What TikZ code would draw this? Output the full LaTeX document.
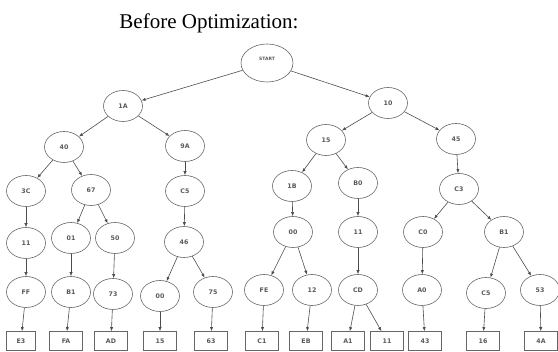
\documentclass[tikz,border=0pt]{standalone}
\usepackage{fontspec}
\setmainfont{Liberation Serif}
\newfontfamily\nodefont{DejaVu Sans}
\usetikzlibrary{shapes.geometric,arrows.meta}

\begin{document}
\begin{tikzpicture}[x=1pt, y=-1pt,
    state/.style={ellipse, draw=black!60, line width=0.6pt, minimum width=39pt, minimum height=31pt, inner sep=0pt, font=\nodefont\bfseries\fontsize{6.3}{7}\selectfont, text=black!65},
    leaf/.style={rectangle, draw=black!60, line width=0.6pt, minimum width=33pt, minimum height=19pt, inner sep=0pt, font=\nodefont\bfseries\fontsize{6.3}{7}\selectfont, text=black!65},
    edge/.style={draw=black!70, line width=0.6pt, -{Latex[length=4pt,width=3.2pt]}}]
            \useasboundingbox (0, 0) rectangle (558, 352);
            \node[anchor=base, font=\fontsize{21}{24}\selectfont] (title) at (209, 29) {Before Optimization:};

            % Root and first levels
            \node[state, minimum width=52pt, minimum height=38pt, font=\nodefont\bfseries\fontsize{4.5}{5}\selectfont] (start) at (267, 63) {\raisebox{9pt}{START}};
            \node[state] (n1A) at (123, 106) {1A};
            \node[state] (n10) at (388, 103) {10};
            \node[state] (n40) at (64, 147) {40};
            \node[state] (n9A) at (185, 146) {9A};
            \node[state] (n15) at (326, 140) {15};
            \node[state] (n45) at (456, 139) {45};

            % Third level
            \node[state] (n3C) at (26, 191) {3C};
            \node[state] (n67) at (91, 190) {67};
            \node[state] (nC5a) at (185, 191) {C5};
            \node[state] (n1B) at (292, 186) {1B};
            \node[state] (nB0) at (358, 183) {B0};
            \node[state] (nC3) at (459, 189) {C3};

            % Fourth level
            \node[state] (n11a) at (26, 243) {11};
            \node[state] (n01) at (71, 238) {01};
            \node[state] (n50) at (115, 238) {50};
            \node[state] (n46) at (184, 242) {46};
            \node[state] (n00a) at (293, 232) {00};
            \node[state] (n11b) at (358, 232) {11};
            \node[state] (nC0) at (423, 232) {C0};
            \node[state] (nB1a) at (504, 232) {B1};

            % Fifth level
            \node[state] (nFF) at (26, 292) {FF};
            \node[state] (nB1b) at (71, 292) {B1};
            \node[state] (n73) at (113, 294) {73};
            \node[state] (n00b) at (160, 296) {00};
            \node[state] (n75) at (213, 292) {75};
            \node[state] (nFE) at (264, 290) {FE};
            \node[state] (n12) at (312, 290) {12};
            \node[state] (nCD) at (358, 290) {CD};
            \node[state] (nA0) at (422, 290) {A0};
            \node[state] (nC5b) at (486, 293) {C5};
            \node[state] (n53) at (540, 290) {53};

            % Leaves
            \node[leaf, minimum width=29pt] (bE3) at (21, 341) {E3};
            \node[leaf] (bFA) at (66, 341) {FA};
            \node[leaf] (bAD) at (111, 341) {AD};
            \node[leaf] (b15) at (160, 341) {15};
            \node[leaf] (b63) at (211, 341) {63};
            \node[leaf] (bC1) at (262, 341) {C1};
            \node[leaf] (bEB) at (306, 341) {EB};
            \node[leaf] (bA1) at (348, 341) {A1};
            \node[leaf] (b11) at (387, 341) {11};
            \node[leaf] (b43) at (425, 341) {43};
            \node[leaf] (b16) at (483, 341) {16};
            \node[leaf] (b4A) at (541, 341) {4A};

            % Edges
            \draw[edge] (start) -- (n1A);
            \draw[edge] (start) -- (n10);
            \draw[edge] (n1A) -- (n40);
            \draw[edge] (n1A) -- (n9A);
            \draw[edge] (n10) -- (n15);
            \draw[edge] (n10) -- (n45);
            \draw[edge] (n40) -- (n3C);
            \draw[edge] (n40) -- (n67);
            \draw[edge] (n9A) -- (nC5a);
            \draw[edge] (n15) -- (n1B);
            \draw[edge] (n15) -- (nB0);
            \draw[edge] (n45) -- (nC3);
            \draw[edge] (n3C) -- (n11a);
            \draw[edge] (n67) -- (n01);
            \draw[edge] (n67) -- (n50);
            \draw[edge] (nC5a) -- (n46);
            \draw[edge] (n1B) -- (n00a);
            \draw[edge] (nB0) -- (n11b);
            \draw[edge] (nC3) -- (nC0);
            \draw[edge] (nC3) -- (nB1a);
            \draw[edge] (n11a) -- (nFF);
            \draw[edge] (n01) -- (nB1b);
            \draw[edge] (n50) -- (n73);
            \draw[edge] (n46) -- (n00b);
            \draw[edge] (n46) -- (n75);
            \draw[edge] (n00a) -- (nFE);
            \draw[edge] (n00a) -- (n12);
            \draw[edge] (n11b) -- (nCD);
            \draw[edge] (nC0) -- (nA0);
            \draw[edge] (nB1a) -- (nC5b);
            \draw[edge] (nB1a) -- (n53);
            \draw[edge] (nFF) -- (bE3);
            \draw[edge] (nB1b) -- (bFA);
            \draw[edge] (n73) -- (bAD);
            \draw[edge] (n00b) -- (b15);
            \draw[edge] (n75) -- (b63);
            \draw[edge] (nFE) -- (bC1);
            \draw[edge] (n12) -- (bEB);
            \draw[edge] (nCD) -- (bA1);
            \draw[edge] (nCD) -- (b11);
            \draw[edge] (nA0) -- (b43);
            \draw[edge] (nC5b) -- (b16);
            \draw[edge] (n53) -- (b4A);

        \end{tikzpicture}
\end{document}
